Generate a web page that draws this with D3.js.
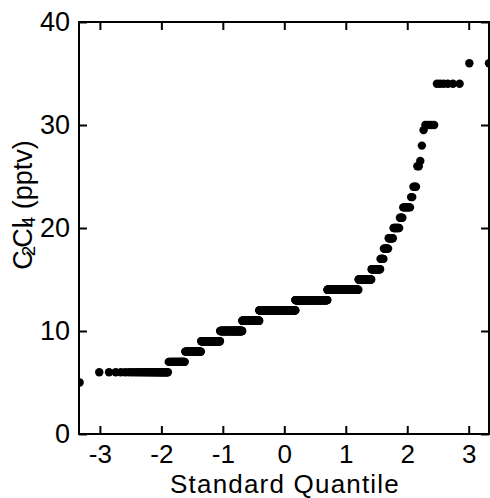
<!DOCTYPE html>
<html>
<head>
<meta charset="utf-8">
<script src="https://cdn.jsdelivr.net/npm/d3@7"></script>
<style>
  body { margin: 0; background: #fff; }
  text { font-family: "Liberation Sans", Arial, sans-serif; fill: #000; }
</style>
</head>
<body>
<div id="chart"></div>
<script>
// sorted sample values (pptv) and how many samples have each value
var values = [5, 6, 7, 8, 9, 10, 11, 12, 13, 14, 15, 16, 17, 18, 19, 20, 21, 22, 23, 24, 26, 26.5, 28, 29.5, 30, 34, 36];
var counts = [1, 33, 27, 40, 69, 114, 109, 264, 215, 147, 41, 22, 7, 9, 8, 9, 4, 8, 2, 3, 2, 1, 1, 1, 5, 6, 2];
var xTicks = [-3, -2, -1, 0, 1, 2, 3];
var yTicks = [0, 10, 20, 30, 40];

var width = 490, height = 498;
var mLeft = 79, mRight = 489, mTop = 22, mBottom = 434;

// inverse of the standard normal cdf (Acklam)
function probit(p) {
  var a = [-39.69683028665376, 220.9460984245205, -275.9285104469687, 138.3577518672690, -30.66479806614716, 2.506628277459239];
  var b = [-54.47609879822406, 161.5858368580409, -155.6989798598866, 66.80131188771972, -13.28068155288572];
  var c = [-0.007784894002430293, -0.3223964580411365, -2.400758277161838, -2.549732539343734, 4.374664141464968, 2.938163982698783];
  var d = [0.007784695709041462, 0.3224671290700398, 2.445134137142996, 3.754408661907416];
  var q, r;
  if (p < 0.02425) {
    q = Math.sqrt(-2 * Math.log(p));
    return (((((c[0]*q+c[1])*q+c[2])*q+c[3])*q+c[4])*q+c[5]) / ((((d[0]*q+d[1])*q+d[2])*q+d[3])*q+1);
  } else if (p > 1 - 0.02425) {
    q = Math.sqrt(-2 * Math.log(1 - p));
    return -(((((c[0]*q+c[1])*q+c[2])*q+c[3])*q+c[4])*q+c[5]) / ((((d[0]*q+d[1])*q+d[2])*q+d[3])*q+1);
  }
  q = p - 0.5; r = q * q;
  return (((((a[0]*r+a[1])*r+a[2])*r+a[3])*r+a[4])*r+a[5])*q / (((((b[0]*r+b[1])*r+b[2])*r+b[3])*r+b[4])*r+1);
}

// expand to one point per sample, then pair each with its standard quantile
var sample = [];
for (var i = 0; i < values.length; i++) {
  for (var j = 0; j < counts[i]; j++) sample.push(values[i]);
}
var n = sample.length;
var points = sample.map(function(v, k) {
  return { q: probit((k + 0.5) / n), v: v };
});

var x = d3.scaleLinear().domain([-3.34, 3.33]).range([mLeft, mRight]);
var y = d3.scaleLinear().domain([0, 40]).range([mBottom, mTop]);

var svg = d3.select("#chart").append("svg")
  .attr("width", width)
  .attr("height", height);

svg.append("clipPath").attr("id", "plotclip")
  .append("rect")
  .attr("x", mLeft).attr("y", mTop)
  .attr("width", mRight - mLeft).attr("height", mBottom - mTop);

svg.append("g")
  .attr("clip-path", "url(#plotclip)")
  .selectAll("circle")
  .data(points)
  .enter().append("circle")
  .attr("cx", function(d) { return x(d.q); })
  .attr("cy", function(d) { return y(d.v); })
  .attr("r", 4.2)
  .attr("fill", "#000");

var fmt = function(d) { return d < 0 ? "-" + Math.abs(d) : String(d); };

// axes, ticks pointing inward on all four sides
var bottomAxis = d3.axisBottom(x).tickValues(xTicks).tickSizeInner(-8).tickSizeOuter(0).tickPadding(11).tickFormat(fmt);
var topAxis = d3.axisTop(x).tickValues(xTicks).tickSizeInner(-8).tickSizeOuter(0).tickFormat("");
var leftAxis = d3.axisLeft(y).tickValues(yTicks).tickSizeInner(-8).tickSizeOuter(0).tickPadding(9).tickFormat(fmt);
var rightAxis = d3.axisRight(y).tickValues(yTicks).tickSizeInner(-8).tickSizeOuter(0).tickFormat("");

function styleAxis(g, size) {
  g.select(".domain").remove();
  g.selectAll(".tick line").attr("stroke", "#000").attr("stroke-width", 2);
  g.selectAll(".tick text").attr("font-size", size).attr("font-family", "Liberation Sans, Arial, sans-serif").attr("fill", "#000");
}

svg.append("g").attr("transform", "translate(0," + mBottom + ")").call(bottomAxis).call(styleAxis, 26);
svg.append("g").attr("transform", "translate(0," + mTop + ")").call(topAxis).call(styleAxis, 26);
svg.append("g").attr("transform", "translate(" + mLeft + ",0)").call(leftAxis).call(styleAxis, 27);
svg.append("g").attr("transform", "translate(" + mRight + ",0)").call(rightAxis).call(styleAxis, 27);

// frame
svg.append("rect")
  .attr("x", mLeft).attr("y", mTop)
  .attr("width", mRight - mLeft).attr("height", mBottom - mTop)
  .attr("fill", "none")
  .attr("stroke", "#000")
  .attr("stroke-width", 2);

// axis titles
svg.append("text")
  .attr("x", 285)
  .attr("y", 493)
  .attr("text-anchor", "middle")
  .attr("font-size", 26)
  .attr("letter-spacing", 1.2)
  .text("Standard Quantile");

var yl = svg.append("text")
  .attr("transform", "translate(32,205) rotate(-90)")
  .attr("text-anchor", "middle")
  .attr("font-size", 27);
yl.append("tspan").text("C");
yl.append("tspan").attr("dx", -6).attr("dy", 3).attr("font-size", 19).text("2");
yl.append("tspan").attr("dx", -2).attr("dy", -3).text("Cl");
yl.append("tspan").attr("dx", -5).attr("dy", 3).attr("font-size", 19).text("4");
yl.append("tspan").attr("dy", -3).text(" (pptv)");
</script>
</body>
</html>
